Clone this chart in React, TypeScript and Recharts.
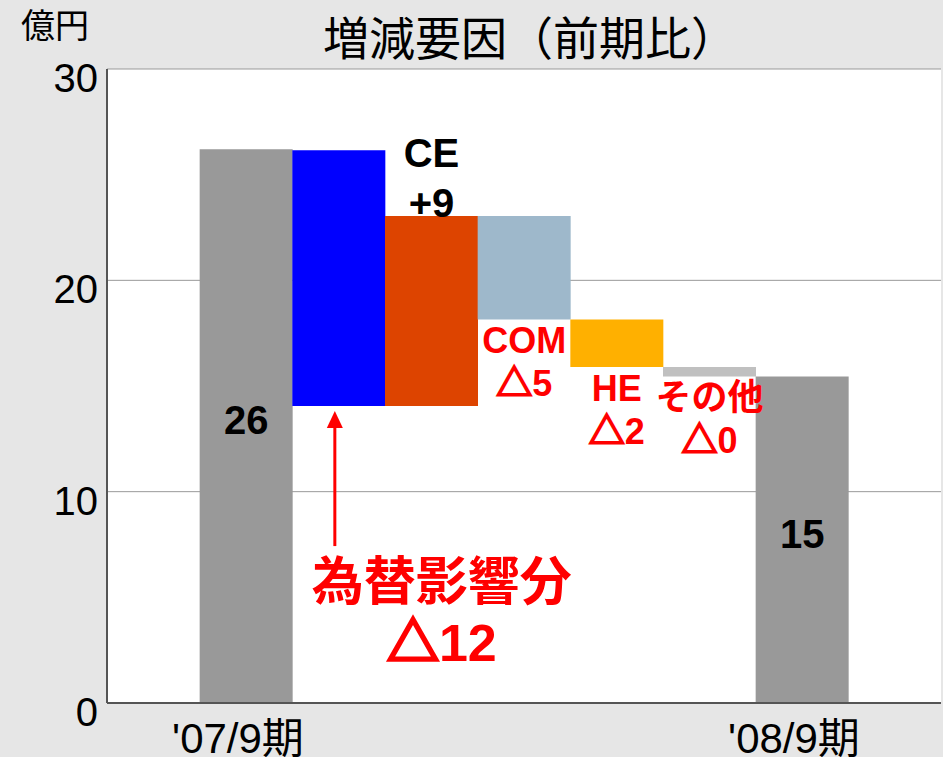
import { Bar, BarChart, CartesianGrid, Cell, LabelList, XAxis, YAxis } from "recharts";

// 増減要因（前期比）, 億円
const categories = ["pad-l", "'07/9期", "為替", "CE", "COM", "HE", "その他", "'08/9期", "pad-r"];
const tickLabels = ["", "'07/9期", "", "", "", "", "", "'08/9期", ""];
const barLow = [null, 0, 14.05, 14.05, 18.15, 15.9, 15.45, 0, null];
const barHigh = [null, 26.2, 26.15, 23.05, 23.05, 18.15, 15.9, 15.45, null];
const barColors = ["#fff", "#999999", "#0000ff", "#dd4400", "#9eb8cb", "#ffb000", "#c0c0c0", "#999999", "#fff"];
const barLabels = [[], ["26"], ["為替影響分", "△12"], ["CE", "+9"], ["COM", "△5"], ["HE", "△2"], ["その他", "△0"], ["15"], []];
const labelKind = ["", "inside", "arrow", "above", "below", "below", "below", "inside", ""];
const yTicks = [0, 10, 20, 30];

const data = categories.map((name, i) => ({
  name,
  range: barLow[i] == null ? null : [barLow[i], barHigh[i]],
}));

const FONT = '"Liberation Sans", Arial, "Noto Sans CJK JP", sans-serif';
const CJK = '"Noto Sans CJK JP", "Liberation Sans", sans-serif';
const BORDER = { stroke: "#555", strokeWidth: 2 };

// the △ glyph is thin in the fallback font, so give it an outline to look bold
const Delta = ({ text, sw }: { text: string; sw: number }) => {
  if (!text.startsWith("△")) return <>{text}</>;
  return (
    <>
      <tspan fontFamily={CJK} stroke="#ff0000" strokeWidth={sw}>△</tspan>
      <tspan>{text.slice(1)}</tspan>
    </>
  );
};

const XTick = (props: any) => {
  const { x, y, payload } = props;
  const label = tickLabels[categories.indexOf(payload.value)];
  if (!label) return null;
  return (
    <text x={x - 8} y={y + 50} textAnchor="middle" fontSize={42} fontFamily={FONT} fill="#000">
      {label}
    </text>
  );
};

const YTick = (props: any) => {
  const { x, y, payload } = props;
  return (
    <text x={x + 1} y={y + 23} textAnchor="end" fontSize={40} fontFamily={FONT} fill="#000">
      {payload.value}
    </text>
  );
};

// LabelList uses dataKey="name", so value is the category name
const renderLabel = (props: any) => {
  const { x, y, width, height, value } = props;
  const i = categories.indexOf(value);
  const lines = barLabels[i];
  if (!lines || !lines.length || x == null) return null;
  const cx = x + width / 2;
  const bottom = y + height;
  const kind = labelKind[i];

  if (kind === "inside") {
    return (
      <text x={cx} y={y + height / 2 + 8} textAnchor="middle" fontSize={40} fontWeight="bold" fontFamily={FONT} fill="#000">
        {lines[0]}
      </text>
    );
  }
  if (kind === "above") {
    return (
      <g fontSize={40} fontWeight="bold" fontFamily={FONT} fill="#000" textAnchor="middle">
        <text x={cx} y={y - 49}>{lines[0]}</text>
        <text x={cx} y={y + 1}>{lines[1]}</text>
      </g>
    );
  }
  if (kind === "below") {
    return (
      <g fontSize={36} fontWeight="bold" fontFamily={FONT} fill="#ff0000" textAnchor="middle">
        <text x={cx} y={bottom + 34}>{lines[0]}</text>
        <text x={cx} y={bottom + 77}><Delta text={lines[1]} sw={2} /></text>
      </g>
    );
  }
  // 為替影響分: arrow pointing at the bar bottom
  const ax = cx - 4;
  return (
    <g>
      <line x1={ax} y1={bottom + 20} x2={ax} y2={bottom + 140} stroke="#ff0000" strokeWidth={3} />
      <polygon points={`${ax},${bottom + 5} ${ax - 8},${bottom + 22} ${ax + 8},${bottom + 22}`} fill="#ff0000" />
      <g fontWeight="bold" fill="#ff0000" textAnchor="middle">
        <text x={cx + 103} y={bottom + 194} fontSize={52} fontFamily={CJK}>{lines[0]}</text>
        <text x={cx + 103} y={bottom + 255} fontSize={52} fontFamily={FONT}><Delta text={lines[1]} sw={3} /></text>
      </g>
    </g>
  );
};

export default function App() {
  return (
    <div style={{ position: "relative", width: 943, height: 757, background: "#e6e6e6", overflow: "hidden" }}>
      <style>{"body{margin:0}"}</style>
      <BarChart
        width={943}
        height={757}
        data={data}
        barCategoryGap={0}
        barGap={0}
        margin={{ top: 69, right: 2, bottom: 0, left: 7 }}
      >
        <CartesianGrid xAxisId="main" yAxisId="main" vertical={false} stroke="#999" fill="#fff" />
        <XAxis
          xAxisId="main"
          dataKey="name"
          height={54}
          interval={0}
          tickLine={false}
          tickSize={0}
          tickMargin={0}
          axisLine={BORDER}
          tick={<XTick />}
        />
        <XAxis xAxisId="top" dataKey="name" orientation="top" height={0} tick={false} tickLine={false} axisLine={BORDER} />
        <YAxis
          yAxisId="main"
          width={100}
          domain={[0, 30]}
          ticks={yTicks}
          tickLine={false}
          tickSize={0}
          tickMargin={10}
          axisLine={BORDER}
          tick={<YTick />}
        />
        <YAxis yAxisId="right" orientation="right" width={0} domain={[0, 30]} tick={false} tickLine={false} axisLine={BORDER} />
        <Bar xAxisId="main" yAxisId="main" dataKey="range" isAnimationActive={false}>
          {data.map((d, i) => (
            <Cell key={d.name} fill={barColors[i]} />
          ))}
          <LabelList dataKey="name" content={renderLabel} />
        </Bar>
      </BarChart>
      <svg width={943} height={757} style={{ position: "absolute", left: 0, top: 0, pointerEvents: "none" }}>
        <text x={21} y={38} fontSize={34} fontFamily={CJK} fill="#000">億円</text>
        <text x={323} y={55} fontSize={46} fontFamily={CJK} fill="#000">増減要因（前期比）</text>
      </svg>
    </div>
  );
}
